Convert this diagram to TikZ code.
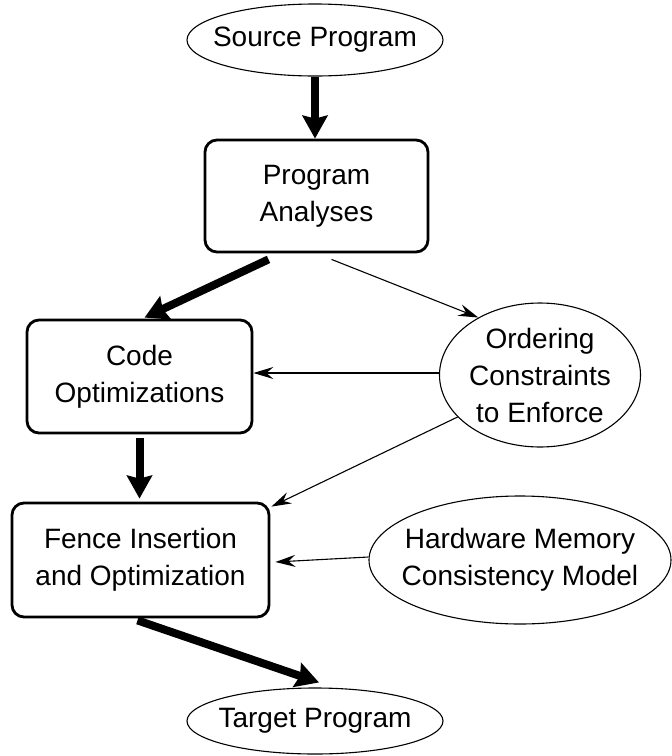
\documentclass[tikz,border=0pt]{standalone}
\usepackage{fontspec}
\setmainfont{Liberation Sans}
\usetikzlibrary{shapes.geometric,arrows.meta}
\begin{document}
\begin{tikzpicture}[x=1pt,y=1pt,
  every node/.style={font=\fontsize{28}{37}\selectfont, align=center},
  procbox/.style={draw, line width=2.8pt, rounded corners=12pt, inner sep=0pt},
  databox/.style={draw, ellipse, line width=1.1pt, inner sep=0pt},
  bigflow/.style={line width=8pt, -{Stealth[length=23pt, width=25pt, inset=3pt]}},
  thinflow/.style={line width=1.1pt, -{Stealth[length=20pt, width=12pt, inset=7pt]}}]
\useasboundingbox (0,0) rectangle (672,-756);
\node[databox, minimum width=256pt, minimum height=72pt, label={center:Source Program}] (sp) at (315,-40) {};
\node[procbox, minimum width=223pt, minimum height=112pt] (pa) at (316.5,-196) {Program\\Analyses};
\node[procbox, minimum width=225pt, minimum height=113pt] (co) at (139.5,-376.5) {Code\\Optimizations};
\node[procbox, minimum width=257pt, minimum height=114pt] (fi) at (140.5,-560) {Fence Insertion\\and Optimization};
\node[databox, minimum width=201pt, minimum height=144pt, label={center:Ordering\\Constraints\\to Enforce}] (oc) at (540,-375) {};
\node[databox, minimum width=302pt, minimum height=128pt, label={center:Hardware Memory\\Consistency Model}] (hw) at (520,-560) {};
\node[databox, minimum width=256pt, minimum height=66pt, label={center:Target Program}] (tp) at (315,-721) {};

\draw[bigflow] (sp.south) -- (sp.south |- pa.north);
\draw[bigflow] ([xshift=-48pt,yshift=-6pt]pa.south) -- ([xshift=5pt,yshift=1pt]co.north);
\draw[bigflow] ([yshift=-4pt]co.south) -- ([yshift=3pt]co.south |- fi.north);
\draw[bigflow] ([xshift=-3pt,yshift=-2pt]fi.south) -- ([xshift=4pt,yshift=5pt]tp.north);
\draw[thinflow] ([xshift=15pt,yshift=-6pt]pa.south) -- (oc.137);
\draw[thinflow] ([yshift=2pt]oc.west) -- ([yshift=2pt]oc.west -| co.east);
\draw[thinflow] (oc.207) -- ([xshift=1pt,yshift=-5pt]fi.north east);
\draw[thinflow] ([yshift=3pt]hw.west) -- ([xshift=5pt,yshift=-2pt]fi.east);
\end{tikzpicture}
\end{document}
